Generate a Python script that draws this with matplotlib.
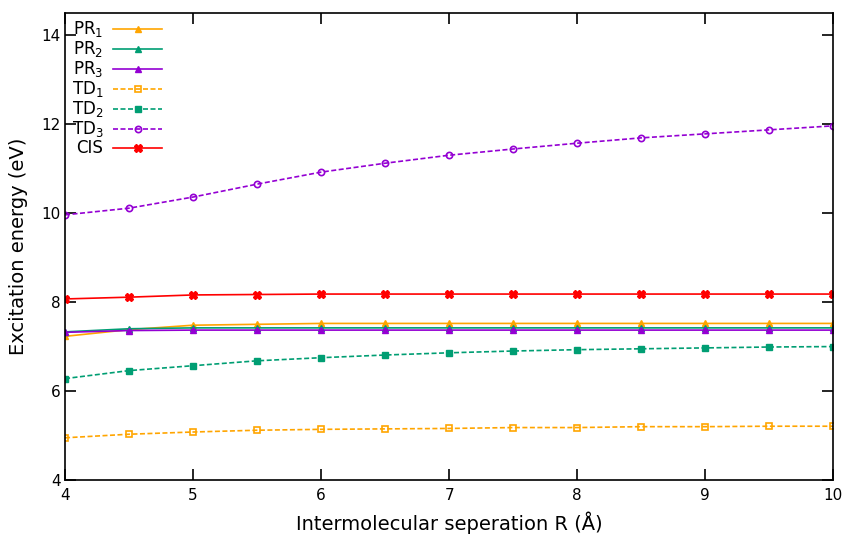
import numpy as np
import matplotlib
matplotlib.use('Agg')
import matplotlib.pyplot as plt

ORANGE = '#FFA500'
GREEN = '#009E73'
PURPLE = '#9400D3'
RED = '#FF0000'

R = [4.0, 4.5, 5.0, 5.5, 6.0, 6.5, 7.0, 7.5, 8.0, 8.5, 9.0, 9.5, 10.0]

pr1 = [7.23, 7.38, 7.48, 7.50, 7.52, 7.52, 7.52, 7.52, 7.52, 7.52, 7.52, 7.52, 7.52]
pr2 = [7.33, 7.40, 7.42, 7.42, 7.42, 7.42, 7.42, 7.42, 7.42, 7.42, 7.42, 7.42, 7.42]
pr3 = [7.32, 7.36, 7.37, 7.37, 7.37, 7.37, 7.37, 7.37, 7.37, 7.37, 7.37, 7.37, 7.37]
td1 = [4.95, 5.03, 5.08, 5.12, 5.14, 5.15, 5.16, 5.18, 5.18, 5.20, 5.20, 5.21, 5.21]
td2 = [6.28, 6.46, 6.57, 6.68, 6.75, 6.81, 6.86, 6.90, 6.93, 6.95, 6.97, 6.99, 7.00]
td3 = [9.96, 10.11, 10.36, 10.65, 10.92, 11.12, 11.30, 11.44, 11.57, 11.69, 11.78, 11.87, 11.96]
cis = [8.07, 8.11, 8.16, 8.17, 8.18, 8.18, 8.18, 8.18, 8.18, 8.18, 8.18, 8.18, 8.18]

fig = plt.figure(figsize=(8.45, 5.34), dpi=100)
ax = fig.add_axes([0.077, 0.101, 0.909, 0.875])

lw = 1.2
ax.plot(R, pr1, '-', color=ORANGE, marker='^', ms=5, lw=lw, label='PR$_1$')
ax.plot(R, pr2, '-', color=GREEN, marker='^', ms=5, lw=lw, label='PR$_2$')
ax.plot(R, pr3, '-', color=PURPLE, marker='^', ms=5, lw=lw, label='PR$_3$')
ax.plot(R, td1, '--', color=ORANGE, marker='s', ms=4.5, mfc='none', mew=1.2,
        lw=lw, dashes=(3, 1.5), label='TD$_1$')
ax.plot(R, td2, '--', color=GREEN, marker='s', ms=4.5, lw=lw, dashes=(3, 1.5),
        label='TD$_2$')
ax.plot(R, td3, '--', color=PURPLE, marker='o', ms=4.5, mfc='none', mew=1.2,
        lw=lw, dashes=(3, 1.5), label='TD$_3$')
ax.plot(R, cis, '-', color=RED, marker='X', ms=6, lw=lw, label='CIS')

ax.set_xlim(4, 10)
ax.set_ylim(4, 14.5)
ax.set_xticks([4, 5, 6, 7, 8, 9, 10])
ax.set_yticks([4, 6, 8, 10, 12, 14])
ax.tick_params(direction='in', length=8, width=1.2, top=True, right=True,
               labelsize=11)
ax.tick_params(axis='y', pad=3)
ax.tick_params(axis='x', pad=6)
for s in ax.spines.values():
    s.set_linewidth(1.2)

ax.set_xlabel('Intermolecular seperation R (Å)', fontsize=14, labelpad=6)
ax.set_ylabel('Excitation energy (eV)', fontsize=14, labelpad=10)

leg = ax.legend(loc='upper left', frameon=False, markerfirst=False,
                fontsize=12, handlelength=2.9, labelspacing=0.0,
                borderaxespad=0.0, handletextpad=0.6)
for t in leg.get_texts():
    t.set_ha('right')
leg._legend_box.align = 'right'

fig.savefig('out.png', dpi=100)
